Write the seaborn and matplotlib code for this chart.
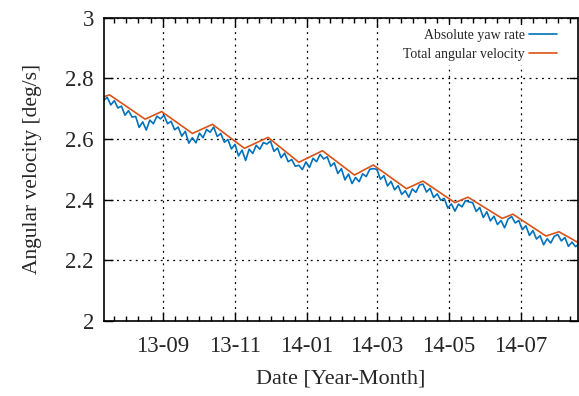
import numpy as np
import pandas as pd
import matplotlib
matplotlib.use("Agg")
import matplotlib.pyplot as plt
import matplotlib.dates as mdates
from matplotlib.ticker import FixedLocator
import seaborn as sns

# ---------------- data ----------------
start_date = "2013-07-13"
end_date = "2014-08-18"

# Total angular velocity: turning points (day offset from start, value)
total_days = [0, 5, 35, 49, 75, 92, 119, 139, 165, 185, 212, 228, 256, 270,
              297, 308, 337, 346, 374, 385, 401]
total_vals = [2.739, 2.745, 2.665, 2.690, 2.618, 2.648, 2.569, 2.605, 2.523,
              2.561, 2.481, 2.514, 2.436, 2.461, 2.390, 2.408, 2.338, 2.352,
              2.280, 2.294, 2.259]

# Absolute yaw rate: read every 3 days (plus last day)
yaw_days = list(range(0, 400, 3)) + [401]
yaw_vals = [
    2.727, 2.737, 2.712, 2.726, 2.702, 2.708, 2.678, 2.693, 2.672, 2.674,
    2.638, 2.656, 2.629, 2.662, 2.650, 2.675, 2.666, 2.678, 2.650, 2.658,
    2.630, 2.639, 2.609, 2.625, 2.586, 2.604, 2.587, 2.619, 2.604, 2.631,
    2.622, 2.639, 2.608, 2.618, 2.589, 2.598, 2.567, 2.582, 2.544, 2.563,
    2.529, 2.566, 2.552, 2.579, 2.566, 2.588, 2.583, 2.593, 2.559, 2.570,
    2.538, 2.553, 2.525, 2.532, 2.510, 2.513, 2.499, 2.524, 2.506, 2.536,
    2.525, 2.549, 2.534, 2.541, 2.510, 2.521, 2.486, 2.502, 2.465, 2.484,
    2.453, 2.473, 2.459, 2.485, 2.476, 2.500, 2.502, 2.500, 2.467, 2.479,
    2.445, 2.460, 2.432, 2.446, 2.417, 2.429, 2.408, 2.435, 2.424, 2.448,
    2.451, 2.425, 2.437, 2.407, 2.419, 2.398, 2.404, 2.372, 2.386, 2.362,
    2.385, 2.376, 2.397, 2.392, 2.390, 2.361, 2.374, 2.341, 2.360, 2.330,
    2.345, 2.318, 2.331, 2.307, 2.336, 2.344, 2.323, 2.331, 2.301, 2.314,
    2.282, 2.298, 2.270, 2.281, 2.251, 2.271, 2.257, 2.279, 2.285, 2.264,
    2.275, 2.246, 2.260, 2.245, 2.251,
]

yticks = [2.0, 2.2, 2.4, 2.6, 2.8, 3.0]
ytick_labels = ["2", "2.2", "2.4", "2.6", "2.8", "3"]
major_months = ["2013-07-01", "2013-09-01", "2013-11-01", "2014-01-01",
                "2014-03-01", "2014-05-01", "2014-07-01", "2014-09-01"]

x_label = "Date [Year-Month]"
y_label = "Angular velocity [deg/s]"
label_yaw = "Absolute yaw rate"
label_total = "Total angular velocity"
color_yaw = "#0072BD"
color_total = "#D95319"

# ---------------- build ----------------
t0 = pd.Timestamp(start_date)
yaw_df = pd.DataFrame({"date": t0 + pd.to_timedelta(yaw_days, unit="D"),
                       "value": yaw_vals})
tot_df = pd.DataFrame({"date": t0 + pd.to_timedelta(total_days, unit="D"),
                       "value": total_vals})

sns.set_theme(style="ticks")
plt.rcParams["font.family"] = ["Liberation Serif", "DejaVu Serif"]

fig = plt.figure(figsize=(5.79, 3.96), dpi=100)
ax = fig.add_axes([0.1791, 0.1894, 0.8190, 0.7664])

sns.lineplot(data=yaw_df, x="date", y="value", ax=ax, color=color_yaw,
             linewidth=1.2, label=label_yaw)
sns.lineplot(data=tot_df, x="date", y="value", ax=ax, color=color_total,
             linewidth=1.2, label=label_total)

ax.set_xlim(pd.Timestamp(start_date), pd.Timestamp(end_date))
ax.set_ylim(2.0, 3.0)
ax.set_yticks(yticks)
ax.set_yticklabels(ytick_labels)

ax.xaxis.set_major_locator(mdates.MonthLocator(bymonth=[1, 3, 5, 7, 9, 11]))
ax.xaxis.set_major_formatter(mdates.DateFormatter("%y-%m"))
mm = [mdates.date2num(pd.Timestamp(m)) for m in major_months]
minor = []
for a, b in zip(mm[:-1], mm[1:]):
    minor.extend(np.linspace(a, b, 7)[1:-1])
ax.xaxis.set_minor_locator(FixedLocator(minor))

ax.grid(True, which="major", color="black", linestyle=(0, (1.5, 3.5)),
        linewidth=0.9)

for s in ax.spines.values():
    s.set_linewidth(1.2)
    s.set_color("black")

ax.tick_params(axis="both", which="both", direction="in", top=True,
               right=True, color="black", width=1.0)
ax.tick_params(axis="both", which="major", length=6.5, labelsize=16.5)
ax.tick_params(axis="x", which="major", pad=11)
ax.tick_params(axis="y", which="major", pad=7)
ax.tick_params(axis="x", which="minor", length=3.3)
ax.tick_params(axis="y", which="minor", length=0)

ax.set_xlabel(x_label, fontsize=16, labelpad=9)
ax.set_ylabel(y_label, fontsize=15.5, labelpad=17)

leg = ax.legend(loc="upper right", bbox_to_anchor=(0.977, 0.993),
                frameon=True, fancybox=False, framealpha=1.0,
                facecolor="white", edgecolor="none", borderpad=0.3,
                markerfirst=False,
                fontsize=10, handlelength=2.0, borderaxespad=0.4,
                labelspacing=0.4, handletextpad=0.35)
leg.get_frame().set_linewidth(0)

fig.savefig("out.png", dpi=100)
